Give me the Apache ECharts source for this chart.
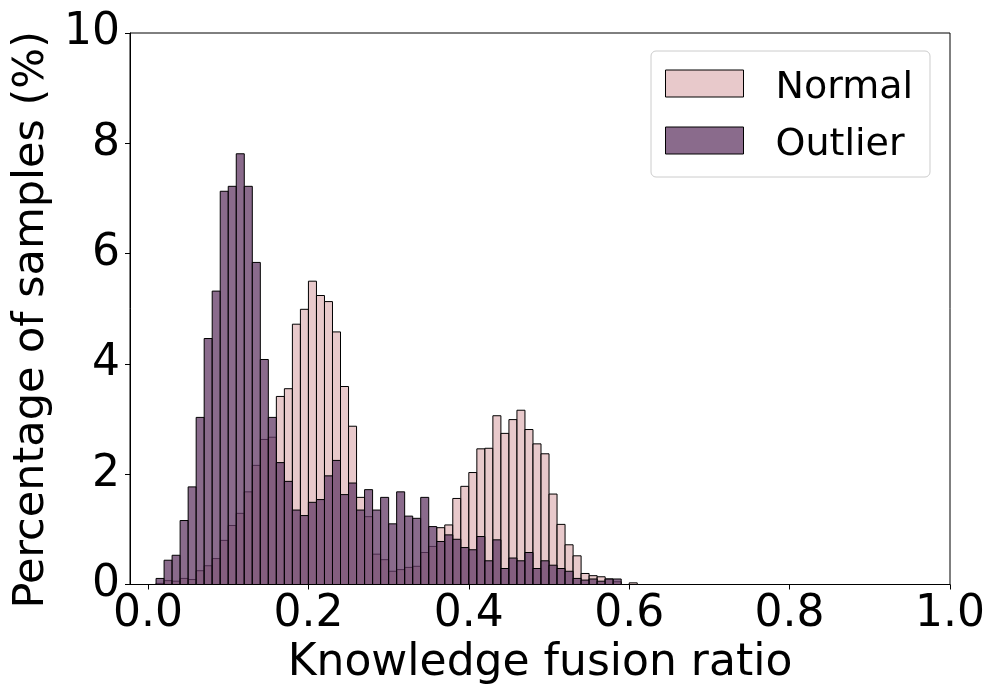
<!DOCTYPE html>
<html>
<head>
<meta charset="utf-8">
<script src="https://cdn.jsdelivr.net/npm/echarts@6/dist/echarts.min.js"></script>
<style>
html,body{margin:0;padding:0;background:#fff;}
#chart{width:1000px;height:700px;}
</style>
</head>
<body>
<div id="chart"></div>
<script>
// Histogram bins (left edges), width 0.01
const binLefts = [0.01,0.02,0.03,0.04,0.05,0.06,0.07,0.08,0.09,0.10,
  0.11,0.12,0.13,0.14,0.15,0.16,0.17,0.18,0.19,0.20,
  0.21,0.22,0.23,0.24,0.25,0.26,0.27,0.28,0.29,0.30,
  0.31,0.32,0.33,0.34,0.35,0.36,0.37,0.38,0.39,0.40,
  0.41,0.42,0.43,0.44,0.45,0.46,0.47,0.48,0.49,0.50,
  0.51,0.52,0.53,0.54,0.55,0.56,0.57,0.58,0.59,0.60];
const binWidth = 0.01;

const normalValues = [0.02,0.07,0.06,0.11,0.09,0.25,0.34,0.47,0.80,1.07,
  1.29,1.68,2.16,2.63,2.67,3.41,3.55,4.72,4.99,5.50,
  5.24,5.13,4.58,3.59,2.87,1.58,1.23,0.55,0.45,0.24,
  0.27,0.31,0.33,0.58,0.69,1.03,1.08,1.56,1.78,2.03,
  2.46,2.47,3.06,2.74,2.99,3.16,2.81,2.55,2.37,1.64,
  1.09,0.72,0.52,0.20,0.16,0.14,0.10,0.05,0,0.03];

const outlierValues = [0.11,0.44,0.53,1.16,1.77,3.03,4.46,5.32,7.13,7.22,
  7.81,7.22,5.84,4.08,3.03,2.21,1.87,1.35,1.25,1.49,
  1.54,1.97,2.25,1.63,1.84,1.35,1.72,1.35,1.58,1.10,
  1.68,1.24,1.20,1.58,1.05,0.78,0.90,0.82,0.67,0.63,
  0.87,0.43,0.81,0.29,0.48,0.43,0.58,0.29,0.43,0.35,
  0.29,0.24,0.11,0.08,0.10,0.06,0.10,0.10,0,0];

const xTicks = [0.0,0.2,0.4,0.6,0.8,1.0];
const seriesNames = ['Normal','Outlier'];
const colors = {Normal:'rgba(224,183,186,0.75)', Outlier:'rgba(99,58,102,0.75)'};
const FONT = 'DejaVu Sans';

function toData(vals){
  const out = [];
  vals.forEach((v,i)=>{ if(v>0) out.push([binLefts[i], binLefts[i]+binWidth, v]); });
  return out;
}
function makeRender(color){
  return function(params, api){
    const p0 = api.coord([api.value(0), api.value(2)]);
    const p1 = api.coord([api.value(1), 0]);
    return {
      type:'rect',
      shape:{x:p0[0], y:p0[1], width:p1[0]-p0[0], height:p1[1]-p0[1]},
      style:{fill:color, stroke:'#000', lineWidth:1}
    };
  };
}

const chart = echarts.init(document.getElementById('chart'), null, {renderer:'canvas'});
chart.setOption({
  animation:false,
  backgroundColor:'#fff',
  grid:{left:130, right:50, top:33, bottom:115.5, show:true, borderColor:'#000', borderWidth:1, backgroundColor:'transparent'},
  legend:{
    orient:'vertical', left:651, top:51,
    padding:[8.5,17,12.5,14],
    itemWidth:78, itemHeight:27, itemGap:9,
    borderColor:'#cccccc', borderWidth:1, borderRadius:5,
    backgroundColor:'rgba(255,255,255,0.8)',
    formatter:'{t|{name}}',
    textStyle:{fontFamily:FONT, fontSize:38, color:'#000', lineHeight:38, padding:[0,0,0,27],
      rich:{t:{fontFamily:FONT, fontSize:38, color:'#000', lineHeight:38, padding:[10,0,0,0]}}},
    data:[
      {name:'Normal', icon:'rect', itemStyle:{color:colors.Normal, borderColor:'#000', borderWidth:1}},
      {name:'Outlier', icon:'rect', itemStyle:{color:colors.Outlier, borderColor:'#000', borderWidth:1}}
    ]
  },
  xAxis:{
    type:'value', min:-0.0225, max:1.0,
    name:'Knowledge fusion ratio', nameLocation:'middle', nameGap:54,
    nameTextStyle:{fontFamily:FONT, fontSize:44, color:'#000'},
    axisLine:{show:true, onZero:false, lineStyle:{color:'#000', width:1}},
    axisTick:{show:true, length:5, lineStyle:{color:'#000'}, customValues:xTicks},
    axisLabel:{fontFamily:FONT, fontSize:44, color:'#000', margin:8, customValues:xTicks,
      formatter:v=>Number(v).toFixed(1)},
    splitLine:{show:false}
  },
  yAxis:{
    type:'value', min:0, max:10, interval:2,
    name:'Percentage of samples (%)', nameLocation:'middle', nameGap:66,
    nameTextStyle:{fontFamily:FONT, fontSize:43, color:'#000', padding:[0,22,0,0]},
    axisLine:{show:true, onZero:false, lineStyle:{color:'#000', width:1}},
    axisTick:{show:true, length:5, lineStyle:{color:'#000'}},
    axisLabel:{fontFamily:FONT, fontSize:44, color:'#000', margin:10},
    splitLine:{show:false}
  },
  series:[
    {name:'Normal', type:'custom', renderItem:makeRender(colors.Normal),
     itemStyle:{color:colors.Normal}, encode:{x:[0,1], y:2}, data:toData(normalValues)},
    {name:'Outlier', type:'custom', renderItem:makeRender(colors.Outlier),
     itemStyle:{color:colors.Outlier}, encode:{x:[0,1], y:2}, data:toData(outlierValues)}
  ]
});
</script>
</body>
</html>
